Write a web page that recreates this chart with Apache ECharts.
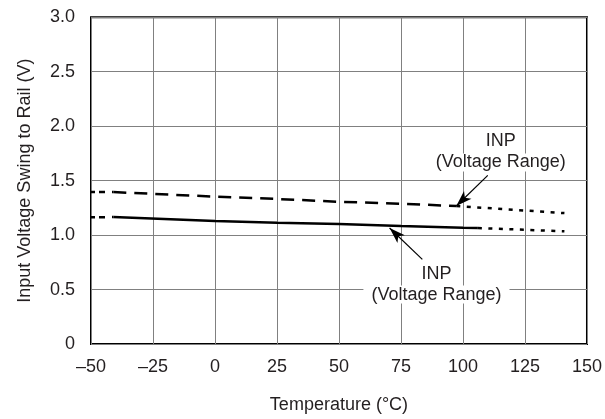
<!DOCTYPE html>
<html>
<head>
<meta charset="utf-8">
<script src="https://cdn.jsdelivr.net/npm/echarts@6/dist/echarts.min.js"></script>
<style>
  html, body { margin: 0; padding: 0; background: #fff; }
  #chart { width: 605px; height: 419px; }
</style>
</head>
<body>
<div id="chart"></div>
<script>
// upper curve (dashed), dash-dot start and dotted extension
const upperStartT = [-50, -41];
const upperStartV = [1.396, 1.395];
const upperMainT = [-41, 0, 25, 50, 75, 97.3];
const upperMainV = [1.395, 1.353, 1.332, 1.306, 1.288, 1.267];
const upperExtT = [97.3, 140.9];
const upperExtV = [1.267, 1.202];

// lower curve (solid), dash-dot start and dotted extension
const lowerStartT = [-50, -41];
const lowerStartV = [1.163, 1.166];
const lowerMainT = [-41, 0, 25, 50, 75, 100, 106];
const lowerMainV = [1.166, 1.13, 1.113, 1.101, 1.083, 1.068, 1.065];
const lowerExtT = [106, 140.9];
const lowerExtV = [1.065, 1.035];

// annotations: [temp, volt]
const upperLabelAt = [115.2, 1.763];
const upperArrow = [[110, 1.549], [97.3, 1.267]];
const lowerLabelAt = [89.3, 0.55];
const lowerArrow = [[83.6, 0.777], [70.4, 1.065]];

const textColor = "#231f20";
const font = "Liberation Sans, Arial, sans-serif";

function pairs(t, v) {
  return t.map((x, i) => [x, v[i]]);
}

function curve(t, v, type) {
  return {
    type: "line",
    data: pairs(t, v),
    symbol: "none",
    silent: true,
    lineStyle: { color: "#000", width: 2.5, type: type, cap: "butt" }
  };
}

const lineStyleText = { fontSize: 18, fontFamily: font, color: textColor, backgroundColor: "#fff", padding: [0, 8], lineHeight: 21 };

function note(at, arrow) {
  return {
    type: "line",
    data: [],
    silent: true,
    markPoint: {
      symbol: "circle",
      symbolSize: 0,
      data: [{ coord: at }],
      label: {
        show: true,
        position: "inside",
        formatter: "{a|INP}\n{b|(Voltage Range)}",
        rich: { a: lineStyleText, b: lineStyleText },
        align: "center"
      }
    },
    markLine: {
      symbol: ["none", "arrow"],
      symbolSize: [8, 16],
      label: { show: false },
      lineStyle: { color: "#000", width: 1.2, type: "solid" },
      data: [[{ coord: arrow[0] }, { coord: arrow[1] }]]
    }
  };
}

const chart = echarts.init(document.getElementById("chart"), null, { renderer: "canvas" });

const option = {
  animation: false,
  backgroundColor: "#fff",
  grid: {
    left: 91,
    right: 17.5,
    top: 17.3,
    bottom: 65,
    show: true,
    borderColor: "#000",
    borderWidth: 2,
    backgroundColor: "transparent"
  },
  xAxis: {
    type: "value",
    min: -50,
    max: 150,
    interval: 25,
    name: "Temperature (°C)",
    nameLocation: "middle",
    nameGap: 52,
    nameTextStyle: { fontSize: 18, fontFamily: font, color: textColor },
    axisLine: { show: false },
    axisTick: { show: false },
    axisLabel: {
      fontSize: 18,
      fontFamily: font,
      color: textColor,
      margin: 14,
      formatter: v => String(v).replace("-", "\u2013")
    },
    splitLine: { show: true, lineStyle: { color: "#808080", width: 1 } }
  },
  yAxis: {
    type: "value",
    min: 0,
    max: 3,
    interval: 0.5,
    name: "Input Voltage Swing to Rail (V)",
    nameLocation: "middle",
    nameGap: 57,
    nameTextStyle: { fontSize: 18, fontFamily: font, color: textColor },
    axisLine: { show: false },
    axisTick: { show: false },
    axisLabel: {
      fontSize: 18,
      fontFamily: font,
      color: textColor,
      margin: 16,
      formatter: v => (v === 0 ? "0" : v.toFixed(1))
    },
    splitLine: { show: true, lineStyle: { color: "#808080", width: 1 } }
  },
  series: [
    curve(upperStartT, upperStartV, [4, 4, 6, 7]),
    curve(upperMainT, upperMainV, [13, 8]),
    curve(upperExtT, upperExtV, [4, 6.5]),
    curve(lowerStartT, lowerStartV, [4, 4, 6, 7]),
    curve(lowerMainT, lowerMainV, "solid"),
    curve(lowerExtT, lowerExtV, [4, 6.5]),
    note(upperLabelAt, upperArrow),
    note(lowerLabelAt, lowerArrow)
  ]
};

chart.setOption(option);
</script>
</body>
</html>
